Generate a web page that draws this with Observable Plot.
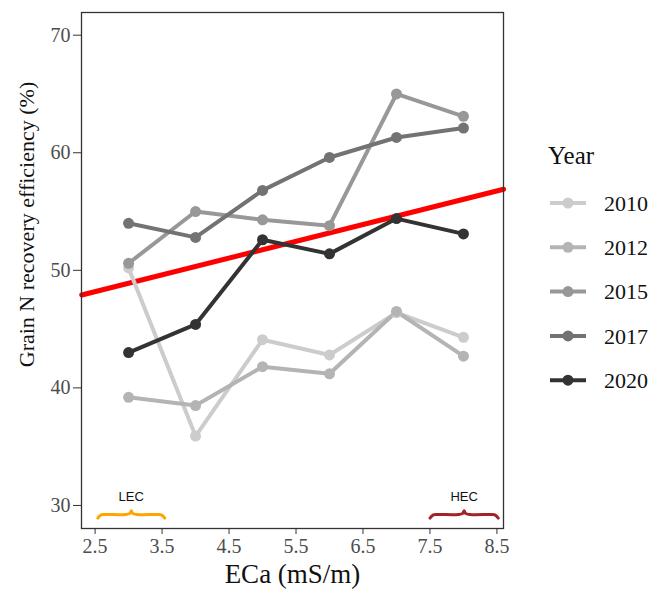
<!DOCTYPE html>
<html>
<head>
<meta charset="utf-8">
<script src="https://cdn.jsdelivr.net/npm/d3@7"></script>
<script src="https://cdn.jsdelivr.net/npm/@observablehq/plot@0.6"></script>
<style>
  html, body { margin: 0; padding: 0; background: #fff; }
  #chart { position: relative; width: 651px; height: 592px; }
</style>
</head>
<body>
<div id="chart"></div>
<script>
// ---- data ----
const years = ["2010", "2012", "2015", "2017", "2020"];
const yearColors = ["#cccccc", "#b4b4b4", "#989898", "#737373", "#333333"];
const eca = [3, 4, 5, 6, 7, 8];
const ref2010 = [50.2, 35.9, 44.1, 42.8, 46.4, 44.3];
const ref2012 = [39.2, 38.5, 41.8, 41.2, 46.5, 42.7];
const ref2015 = [50.6, 55.0, 54.3, 53.8, 65.0, 63.1];
const ref2017 = [54.0, 52.8, 56.8, 59.6, 61.3, 62.1];
const ref2020 = [43.0, 45.4, 52.6, 51.4, 54.4, 53.1];
const fitX = [2.3, 8.6];
const fitY = [47.9, 56.9];
const xTicks = [2.5, 3.5, 4.5, 5.5, 6.5, 7.5, 8.5];
const yTicks = [30, 40, 50, 60, 70];
const zoneLabels = ["LEC", "HEC"];
const zoneStart = [2.54, 7.5];
const zoneEnd = [3.54, 8.52];
const zoneColors = ["#ffa500", "#a3222a"];
const xTitle = "ECa (mS/m)";
const yTitle = "Grain N recovery efficiency (%)";
const legendTitle = "Year";

// ---- tables ----
const series = [ref2010, ref2012, ref2015, ref2017, ref2020];
const rows = years.flatMap((yr, i) => eca.map((x, j) => ({year: yr, x, y: series[i][j]})));
const fit = fitX.map((x, i) => ({x, y: fitY[i]}));
// brace shapes built from zone ranges
const yFlat = 29.23, yPeak = 29.56, yEnd = 28.92;
const braces = zoneLabels.flatMap((z, i) => {
  const a = zoneStart[i], b = zoneEnd[i], m = (a + b) / 2;
  return [
    [a, yEnd], [a + 0.05, yFlat - 0.03], [a + 0.12, yFlat], [m - 0.09, yFlat], [m - 0.02, yFlat + 0.1], [m, yPeak],
    [m + 0.02, yFlat + 0.1], [m + 0.09, yFlat], [b - 0.12, yFlat], [b - 0.05, yFlat - 0.03], [b, yEnd]
  ].map(([x, y]) => ({zone: z, x, y}));
});
const zoneText = zoneLabels.map((z, i) => ({zone: z, x: (zoneStart[i] + zoneEnd[i]) / 2, y: 30.75}));

const colorScale = {domain: years, range: yearColors};

const plot = Plot.plot({
  width: 651,
  height: 592,
  marginLeft: 81,
  marginRight: 148,
  marginTop: 12,
  marginBottom: 64,
  style: {fontFamily: "Liberation Serif", background: "#fff"},
  x: {domain: [2.297, 8.598], label: null},
  y: {domain: [28.04, 71.93], label: null},
  color: colorScale,
  marks: [
    Plot.axisX({ticks: xTicks, tickFormat: d3.format(".1f"), tickSize: 6, tickPadding: 4, fontSize: 20, stroke: "#333", fill: "#4d4d4d", label: null}),
    Plot.axisY({ticks: yTicks, tickSize: 8, tickPadding: 3, fontSize: 20, stroke: "#333", fill: "#4d4d4d", label: null}),
    Plot.line(fit, {x: "x", y: "y", stroke: "#ff0000", strokeWidth: 5}),
    Plot.line(rows, {x: "x", y: "y", z: "year", stroke: "year", strokeWidth: 4, strokeLinecap: "round", strokeLinejoin: "round"}),
    Plot.dot(rows, {x: "x", y: "y", fill: "year", r: 5.5}),
    Plot.line(braces, {x: "x", y: "y", z: "zone", stroke: d => zoneColors[zoneLabels.indexOf(d.zone)], strokeWidth: 3, curve: "catmull-rom", strokeLinecap: "round"}),
    Plot.text(zoneText, {x: "x", y: "y", text: "zone", fontFamily: "Liberation Sans", fontSize: 13, fill: "#111"}),
    Plot.frame({stroke: "#333", strokeWidth: 1.3}),
    Plot.text([xTitle], {frameAnchor: "bottom", textAnchor: "middle", dy: 54, fontSize: 27, fill: "#111"}),
    Plot.text([yTitle], {frameAnchor: "left", textAnchor: "middle", dx: -55, dy: -46, rotate: -90, fontSize: 22, fill: "#111"})
  ]
});

const chart = document.getElementById("chart");
chart.appendChild(plot);

// legend drawn into the same svg
const svg = d3.select(plot);
const lg = svg.append("g").attr("font-family", "Liberation Serif").attr("text-anchor", "start");
lg.append("text").attr("x", 548).attr("y", 164).attr("font-size", 25).attr("fill", "#111").text(legendTitle);
years.forEach((yr, i) => {
  const cy = 203 + i * 44.3;
  lg.append("line").attr("x1", 550).attr("x2", 586).attr("y1", cy).attr("y2", cy)
    .attr("stroke", yearColors[i]).attr("stroke-width", 4);
  lg.append("circle").attr("cx", 568).attr("cy", cy).attr("r", 5.5).attr("fill", yearColors[i]);
  lg.append("text").attr("x", 604).attr("y", cy).attr("dy", "0.35em").attr("font-size", 22).attr("fill", "#111").text(yr);
});
</script>
</body>
</html>
